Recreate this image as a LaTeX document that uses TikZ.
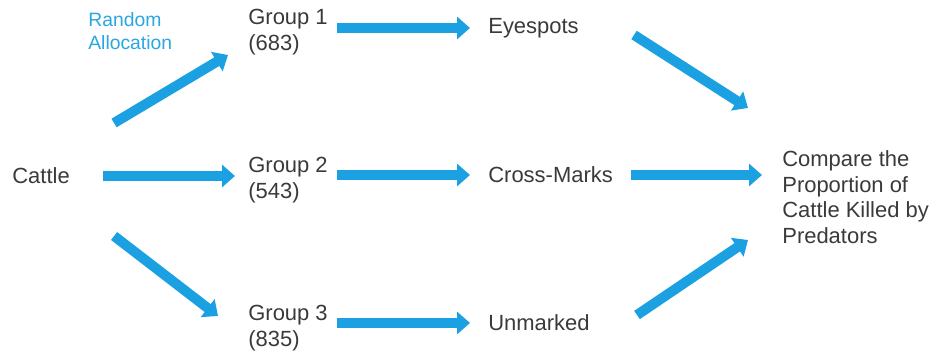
\documentclass[tikz,border=0pt]{standalone}
\usepackage{fontspec}
\setmainfont{Liberation Sans}
\usetikzlibrary{arrows.meta}
\definecolor{flowblue}{RGB}{27,161,226}
\definecolor{labelblue}{RGB}{42,167,223}
\definecolor{textgray}{RGB}{58,58,58}
\begin{document}
\begin{tikzpicture}[x=0.02cm, y=-0.02cm,
    every node/.style={inner sep=0pt, anchor=west, align=left, text=textgray, font=\fontsize{12.5}{14.6}\selectfont},
    flow/.style={draw=flowblue, line width=0.2cm, -{Triangle[length=0.26cm, width=0.44cm]}}]
    \useasboundingbox (0,0) rectangle (933,354);
    \node (cattle) at (12,176) {Cattle};
    \node[text=labelblue, font=\fontsize{11}{12.8}\selectfont] (alloc) at (88,31) {Random\\Allocation};
    \node (g1) at (248,32) {Group 1\\(683)};
    \node (g2) at (248,180) {Group 2\\(543)};
    \node (g3) at (248,328) {Group 3\\(835)};
    \node (eyes) at (488,28) {Eyespots};
    \node (cross) at (488,175) {Cross-Marks};
    \node (unmarked) at (488,323) {Unmarked};
    \node (compare) at (782,197) {Compare the\\Proportion of\\Cattle Killed by\\Predators};
    % allocation to the groups
    \draw[flow] ([shift={(44,-53)}]cattle.east) -- ([shift={(-20,23)}]g1.west);
    \draw[flow] ([xshift=0.66cm]cattle.east) -- ([xshift=-0.26cm]cattle.east -| g2.west);
    \draw[flow] ([shift={(44,60)}]cattle.east) -- ([shift={(-30,-12)}]g3.west);
    % treatments
    \draw[flow] ([xshift=0.18cm]g1.east |- eyes.west) -- ([xshift=-0.36cm]eyes.west);
    \draw[flow] ([xshift=0.18cm]g2.east |- cross.west) -- ([xshift=-0.36cm]cross.west);
    \draw[flow] ([xshift=0.18cm]g3.east |- unmarked.west) -- ([xshift=-0.36cm]unmarked.west);
    % outcome
    \draw[flow] ([shift={(55,7)}]eyes.east) -- ([shift={(-34,-89)}]compare.west);
    \draw[flow] ([xshift=0.36cm]cross.east) -- ([xshift=-0.4cm]cross.east -| compare.west);
    \draw[flow] ([shift={(47,-8)}]unmarked.east) -- ([shift={(-34,43)}]compare.west);
\end{tikzpicture}
\end{document}
